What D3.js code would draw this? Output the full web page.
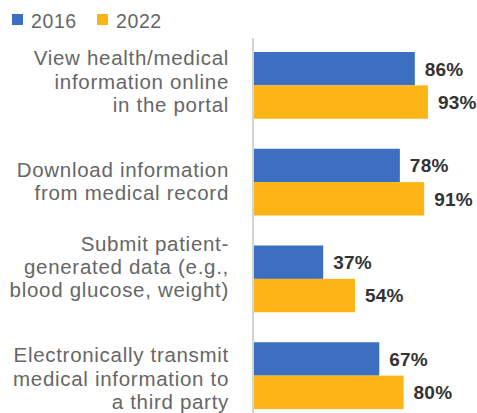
<!DOCTYPE html>
<html>
<head>
<meta charset="utf-8">
<script src="https://cdn.jsdelivr.net/npm/d3@7"></script>
<style>
  html, body { margin: 0; padding: 0; background: #fff; }
  svg { display: block; }
</style>
</head>
<body>
<svg id="chart" width="477" height="413"></svg>
<script>
const categories = [
  ["View health/medical", "information online", "in the portal"],
  ["Download information", "from medical record"],
  ["Submit patient-", "generated data (e.g.,", "blood glucose, weight)"],
  ["Electronically transmit", "medical information to", "a third party"]
];
const seriesNames = ["2016", "2022"];
const values2016 = [86, 78, 37, 67];
const values2022 = [93, 91, 54, 80];
const colors = ["#3c6fbf", "#fdb515"];

const svg = d3.select("#chart");
const catIds = categories.map((c, i) => i);
const seriesValues = [values2016, values2022];

const labelFont = "'Liberation Sans', Arial, sans-serif";
const labelNudge = [-4, -1, -12, 3];
const x = d3.scaleLinear().domain([0, 100]).range([254, 441]);
const y = d3.scaleBand().domain(catIds).range([52, 409]).paddingInner(0.31).paddingOuter(0);
const ySub = d3.scaleBand().domain(seriesNames).range([0, y.bandwidth()]).padding(0);

// legend
const legend = svg.append("g");
const legX = [12, 97];
seriesNames.forEach((s, i) => {
  legend.append("rect").attr("x", legX[i]).attr("y", 14).attr("width", 11).attr("height", 11).attr("fill", colors[i]);
  legend.append("text").attr("x", legX[i] + 19).attr("y", 28)
    .attr("font-family", labelFont).attr("font-size", 19.5).attr("letter-spacing", 0.6)
    .attr("fill", "#666").text(s);
});

// axis line
svg.append("line").attr("x1", 253).attr("x2", 253).attr("y1", 38).attr("y2", 413)
  .attr("stroke", "#d4d4d4").attr("stroke-width", 2);

// bars
const groups = svg.selectAll("g.cat").data(catIds).join("g").attr("class", "cat")
  .attr("transform", d => `translate(0,${y(d)})`);

groups.each(function(ci) {
  const g = d3.select(this);
  seriesNames.forEach((s, si) => {
    const v = seriesValues[si][ci];
    g.append("rect")
      .attr("x", x(0)).attr("y", ySub(s))
      .attr("width", x(v) - x(0)).attr("height", ySub.bandwidth())
      .attr("fill", colors[si]);
    g.append("text")
      .attr("x", x(v) + 10).attr("y", ySub(s) + ySub.bandwidth() / 2)
      .attr("dy", "0.36em")
      .attr("font-family", labelFont).attr("font-weight", 700).attr("font-size", 19)
      .attr("letter-spacing", 0.2)
      .attr("fill", "#333").text(v + "%");
  });
  const lines = categories[ci];
  const lh = 23.4;
  const cy = y.bandwidth() / 2 + labelNudge[ci];
  const t = g.append("text").attr("text-anchor", "end")
    .attr("font-family", labelFont).attr("font-size", 20.5).attr("letter-spacing", 0.7)
    .attr("fill", "#666");
  lines.forEach((ln, li) => {
    t.append("tspan").attr("x", 229)
      .attr("y", cy + (li - (lines.length - 1) / 2) * lh)
      .attr("dy", "0.35em").text(ln);
  });
});
</script>
</body>
</html>
